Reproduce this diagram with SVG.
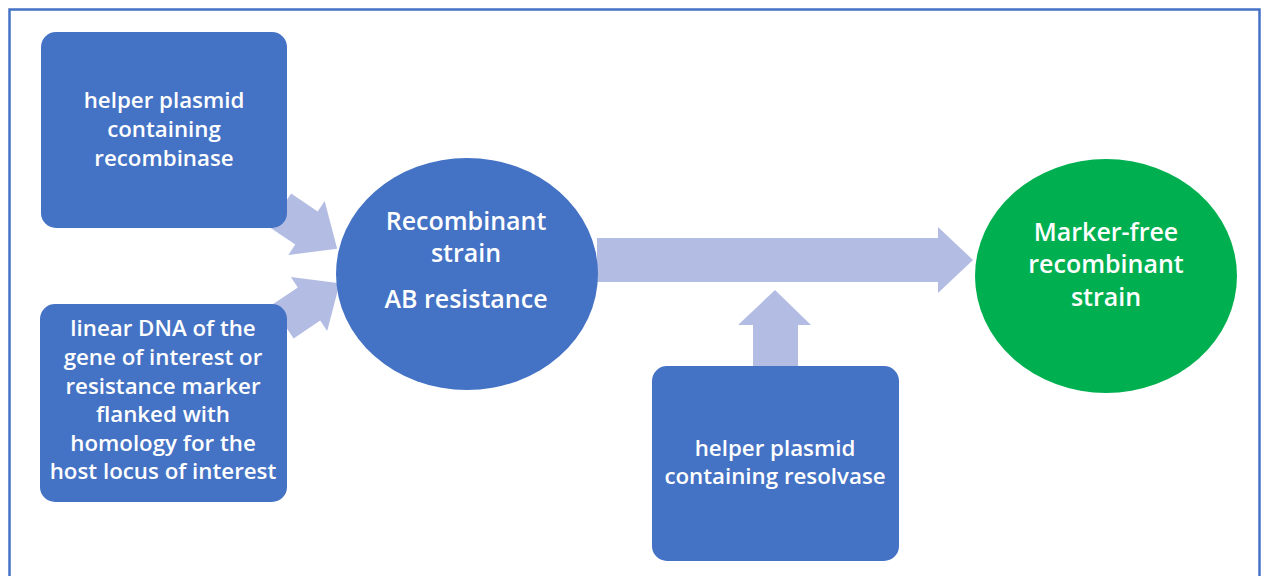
<svg xmlns="http://www.w3.org/2000/svg" width="1264" height="576" viewBox="0 0 1264 576">
<style>
.box{fill:#4472C4;}
.green{fill:#00B050;}
.arr{fill:#B3BDE3;}
.t{font-family:"Open Sans","Noto Sans","Liberation Sans",sans-serif;fill:#ffffff;text-anchor:middle;font-size:22.3px;font-weight:600;}
.tl{font-family:"Open Sans","Noto Sans","Liberation Sans",sans-serif;fill:#ffffff;text-anchor:middle;font-size:25px;font-weight:600;}
</style>
<rect x="0" y="0" width="1264" height="576" fill="#ffffff"/>
<rect x="9.5" y="9.5" width="1250" height="600" fill="#ffffff" stroke="#4472C4" stroke-width="2.5"/>
<g id="connectors">
  <g transform="translate(306.5,228) rotate(34)">
    <polygon class="arr" points="-32,-20 0,-20 0,-32.5 37,0 0,32.5 0,20 -32,20"/>
  </g>
  <g transform="translate(309,304) rotate(-34)">
    <polygon class="arr" points="-32,-20 0,-20 0,-32.5 37,0 0,32.5 0,20 -32,20"/>
  </g>
  <polygon class="arr" points="597,238 938,238 938,227 973,260 938,293 938,282 597,282"/>
  <polygon class="arr" points="753,366 753,325 738,325 775,290 811,325 798,325 798,366"/>
</g>
<g id="node-recombinase">
  <rect class="box" x="41" y="32" width="246" height="196" rx="15"/>
  <text class="t" x="164" y="108">helper plasmid</text>
  <text class="t" x="164" y="137">containing</text>
  <text class="t" x="164" y="166">recombinase</text>
</g>
<g id="node-linear-dna">
  <rect class="box" x="40" y="304" width="247" height="198" rx="15"/>
  <text class="t" x="163" y="336">linear DNA of the</text>
  <text class="t" x="163" y="365">gene of interest or</text>
  <text class="t" x="163" y="394">resistance marker</text>
  <text class="t" x="163" y="422">flanked with</text>
  <text class="t" x="163" y="451">homology for the</text>
  <text class="t" x="163" y="479">host locus of interest</text>
</g>
<g id="node-recombinant">
  <ellipse class="box" cx="467" cy="274" rx="131" ry="116"/>
  <text class="tl" x="466" y="230">Recombinant</text>
  <text class="tl" x="466" y="262">strain</text>
  <text class="tl" x="466" y="308">AB resistance</text>
</g>
<g id="node-resolvase">
  <rect class="box" x="652" y="366" width="247" height="195" rx="15"/>
  <text class="t" x="775" y="456">helper plasmid</text>
  <text class="t" x="775" y="484">containing resolvase</text>
</g>
<g id="node-marker-free">
  <ellipse class="green" cx="1106" cy="276" rx="131" ry="117"/>
  <text class="tl" x="1106" y="241">Marker-free</text>
  <text class="tl" x="1106" y="273">recombinant</text>
  <text class="tl" x="1106" y="306">strain</text>
</g>
</svg>
